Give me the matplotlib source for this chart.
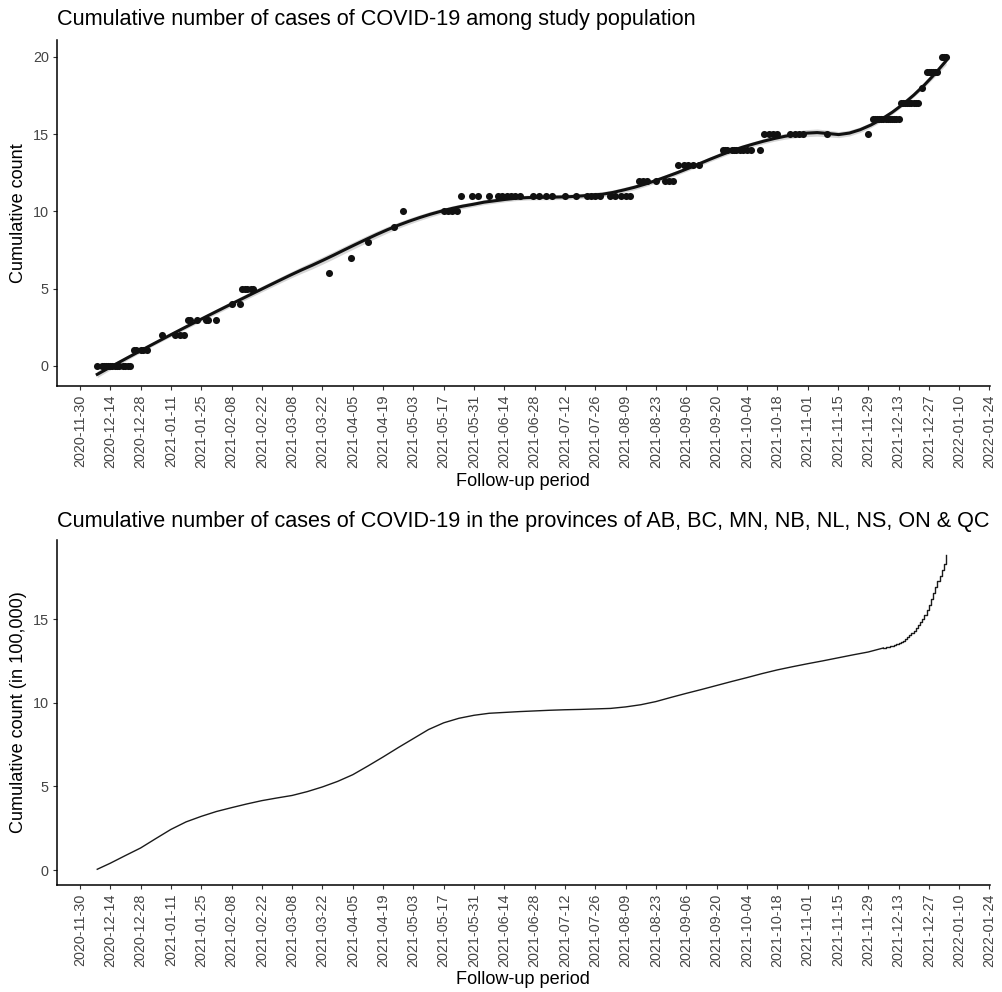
import numpy as np
import pandas as pd
import matplotlib
matplotlib.use("Agg")
import matplotlib.pyplot as plt
import matplotlib.dates as mdates

plt.rcParams['font.family'] = ['Liberation Sans', 'DejaVu Sans']

# ---------------- data: study population (cumulative cases) ----------------
study_dates = [
    "2020-12-08", "2020-12-10", "2020-12-11", "2020-12-12", "2020-12-13", "2020-12-14", "2020-12-15",
    "2020-12-16", "2020-12-17", "2020-12-18", "2020-12-20", "2020-12-21", "2020-12-22", "2020-12-23",
    "2020-12-25", "2020-12-26", "2020-12-28", "2020-12-29", "2020-12-31",
    "2021-01-07", "2021-01-13", "2021-01-15", "2021-01-17",
    "2021-01-19", "2021-01-20", "2021-01-23", "2021-01-27", "2021-01-28", "2021-02-01",
    "2021-02-08", "2021-02-12",
    "2021-02-13", "2021-02-14", "2021-02-15", "2021-02-17", "2021-02-18",
    "2021-03-25", "2021-04-04", "2021-04-12", "2021-04-24",
    "2021-04-28", "2021-05-17", "2021-05-19", "2021-05-21", "2021-05-23",
    "2021-05-25", "2021-05-30", "2021-06-02", "2021-06-07", "2021-06-11", "2021-06-13", "2021-06-15",
    "2021-06-17", "2021-06-19", "2021-06-21", "2021-06-27", "2021-06-30", "2021-07-03", "2021-07-06",
    "2021-07-12", "2021-07-17", "2021-07-22", "2021-07-24", "2021-07-26", "2021-07-28", "2021-08-02",
    "2021-08-04", "2021-08-07", "2021-08-09", "2021-08-11",
    "2021-08-15", "2021-08-17", "2021-08-19", "2021-08-23", "2021-08-27", "2021-08-29", "2021-08-31",
    "2021-09-02", "2021-09-05", "2021-09-07", "2021-09-09", "2021-09-12",
    "2021-09-23", "2021-09-24", "2021-09-25", "2021-09-27", "2021-09-28", "2021-09-29", "2021-10-01",
    "2021-10-02", "2021-10-04", "2021-10-06", "2021-10-10",
    "2021-10-12", "2021-10-14", "2021-10-16", "2021-10-18", "2021-10-24", "2021-10-26", "2021-10-28",
    "2021-10-30", "2021-11-10", "2021-11-29",
    "2021-12-01", "2021-12-02", "2021-12-03", "2021-12-04", "2021-12-05", "2021-12-06", "2021-12-07",
    "2021-12-08", "2021-12-09", "2021-12-10", "2021-12-11", "2021-12-12", "2021-12-13",
    "2021-12-14", "2021-12-15", "2021-12-16", "2021-12-17", "2021-12-18", "2021-12-19", "2021-12-20",
    "2021-12-21", "2021-12-22",
    "2021-12-24",
    "2021-12-26", "2021-12-27", "2021-12-28", "2021-12-29", "2021-12-30", "2021-12-31",
    "2022-01-02", "2022-01-03", "2022-01-04",
]
study_counts = (
    [0] * 14 + [1] * 5 + [2] * 4 + [3] * 6 + [4] * 2 + [5] * 5 + [6, 7, 8, 9] +
    [10] * 5 + [11] * 25 + [12] * 7 + [13] * 5 + [14] * 11 + [15] * 10 +
    [16] * 13 + [17] * 9 + [18] + [19] * 6 + [20] * 3
)

# ---------------- data: provinces (cumulative cases, in 100,000) ----------------
prov_weekly_dates = [
    "2020-12-08", "2020-12-14", "2020-12-21", "2020-12-28", "2021-01-04", "2021-01-11", "2021-01-18",
    "2021-01-25", "2021-02-01", "2021-02-08", "2021-02-15", "2021-02-22", "2021-03-01", "2021-03-08",
    "2021-03-15", "2021-03-22", "2021-03-29", "2021-04-05", "2021-04-12", "2021-04-19", "2021-04-26",
    "2021-05-03", "2021-05-10", "2021-05-17", "2021-05-24", "2021-05-31", "2021-06-07", "2021-06-14",
    "2021-06-21", "2021-06-28", "2021-07-05", "2021-07-12", "2021-07-19", "2021-07-26", "2021-08-02",
    "2021-08-09", "2021-08-16", "2021-08-23", "2021-08-30", "2021-09-06", "2021-09-13", "2021-09-20",
    "2021-09-27", "2021-10-04", "2021-10-11", "2021-10-18", "2021-10-25", "2021-11-01", "2021-11-08",
    "2021-11-15", "2021-11-22", "2021-11-29", "2021-12-06",
]
prov_weekly_counts = [
    0.05, 0.41, 0.87, 1.32, 1.88, 2.43, 2.88,
    3.21, 3.50, 3.73, 3.95, 4.15, 4.31, 4.46,
    4.69, 4.97, 5.30, 5.70, 6.22, 6.76, 7.32,
    7.86, 8.40, 8.80, 9.07, 9.25, 9.37, 9.42,
    9.47, 9.51, 9.55, 9.58, 9.60, 9.63, 9.66,
    9.75, 9.88, 10.07, 10.32, 10.56, 10.79, 11.03,
    11.27, 11.50, 11.74, 11.96, 12.15, 12.33, 12.50,
    12.68, 12.86, 13.03, 13.27,
]
prov_daily_dates = pd.date_range("2021-12-06", "2022-01-04", freq="D").strftime("%Y-%m-%d").tolist()
prov_daily_counts = [
    13.27, 13.30, 13.33, 13.37, 13.41, 13.45, 13.50, 13.55, 13.62, 13.70,
    13.80, 13.92, 14.05, 14.18, 14.30, 14.45, 14.62, 14.80, 15.00, 15.25,
    15.55, 15.85, 16.20, 16.55, 16.90, 17.25, 17.60, 17.95, 18.30, 18.80,
]

tick_dates = pd.date_range("2020-11-30", "2022-01-24", freq="14D")

# ---------------- loess smoother (as geom_smooth) ----------------
def loess_fit(x, y, xs, span=0.75):
    n = len(x)
    q = int(np.floor(n * span))
    def rows(x0):
        d = np.abs(x - x0)
        h = np.sort(d)[q - 1]
        w = np.clip(1 - (d / h) ** 3, 0, None) ** 3
        X = np.column_stack([np.ones(n), x - x0, (x - x0) ** 2])
        XtW = X.T * w
        A = np.linalg.pinv(XtW @ X) @ XtW
        return A[0]
    L = np.array([rows(x0) for x0 in x])
    fitted = L @ y
    rss = np.sum((y - fitted) ** 2)
    dof = n - 2 * np.trace(L) + np.trace(L.T @ L)
    sigma = np.sqrt(rss / dof)
    Ls = np.array([rows(x0) for x0 in xs])
    ys = Ls @ y
    se = sigma * np.sqrt(np.sum(Ls ** 2, axis=1))
    return ys, se

sd = pd.to_datetime(study_dates)
sx = mdates.date2num(sd)
sy = np.array(study_counts, dtype=float)
gx = np.linspace(sx.min(), sx.max(), 80)
gy, gse = loess_fit(sx, sy, gx, span=0.4)

# ---------------- figure ----------------
W, H = 1002, 992
fig = plt.figure(figsize=(W / 100, H / 100), dpi=100)

def px_axes(left, top, right, bottom):
    return fig.add_axes([left / W, 1 - bottom / H, (right - left) / W, (bottom - top) / H])

ax1 = px_axes(57, 40, 990, 386)
ax2 = px_axes(57, 539.7, 990, 885)

xlim = (mdates.date2num(pd.Timestamp("2020-11-19 10:00")), mdates.date2num(pd.Timestamp("2022-01-24 06:00")))

for ax in (ax1, ax2):
    for s in ("top", "right"):
        ax.spines[s].set_visible(False)
    for s in ("left", "bottom"):
        ax.spines[s].set_linewidth(1.1)
        ax.spines[s].set_color("black")
    ax.set_xlim(*xlim)
    ax.set_xticks(mdates.date2num(tick_dates))
    ax.set_xticklabels(tick_dates.strftime("%Y-%m-%d"), rotation=90)
    ax.tick_params(axis="both", direction="out", length=3.2, width=0.8, color="#333333",
                   labelcolor="#444444", labelsize=10.4, pad=2.8)

# top panel
ax1.fill_between(gx, gy - 1.97 * gse, gy + 1.97 * gse, color="#999999", alpha=0.4, lw=0)
ax1.scatter(sx, sy, s=26, color="#111111", lw=0, zorder=3)
ax1.plot(gx, gy, color="#111111", lw=2.2, zorder=4)
ax1.set_ylim(-1.3, 21.1)
ax1.set_yticks([0, 5, 10, 15, 20])

# bottom panel
pwx = mdates.date2num(pd.to_datetime(prov_weekly_dates))
pdx = mdates.date2num(pd.to_datetime(prov_daily_dates))
ax2.plot(pwx, prov_weekly_counts, color="#1a1a1a", lw=1.0)
ax2.plot(pdx, prov_daily_counts, color="#1a1a1a", lw=1.0, drawstyle="steps-post")
ax2.set_ylim(-0.89, 19.74)
ax2.set_yticks([0, 5, 10, 15])

# titles and labels
fig.text(57 / W, 1 - 20 / H, "Cumulative number of cases of COVID-19 among study population",
         fontsize=15.6, ha="left", va="center", color="black")
fig.text(57 / W, 1 - 521 / H,
         "Cumulative number of cases of COVID-19 in the provinces of AB, BC, MN, NB, NL, NS, ON & QC",
         fontsize=15.6, ha="left", va="center", color="black")
fig.text(523 / W, 1 - 482 / H, "Follow-up period", fontsize=13.1, ha="center", va="center")
fig.text(523 / W, 1 - 980 / H, "Follow-up period", fontsize=13.1, ha="center", va="center")
fig.text(19 / W, 1 - 213 / H, "Cumulative count", fontsize=13.1, ha="center", va="center", rotation=90)
fig.text(19 / W, 1 - 712 / H, "Cumulative count (in 100,000)", fontsize=13.1, ha="center", va="center",
         rotation=90)

fig.savefig("out.png", dpi=100)
